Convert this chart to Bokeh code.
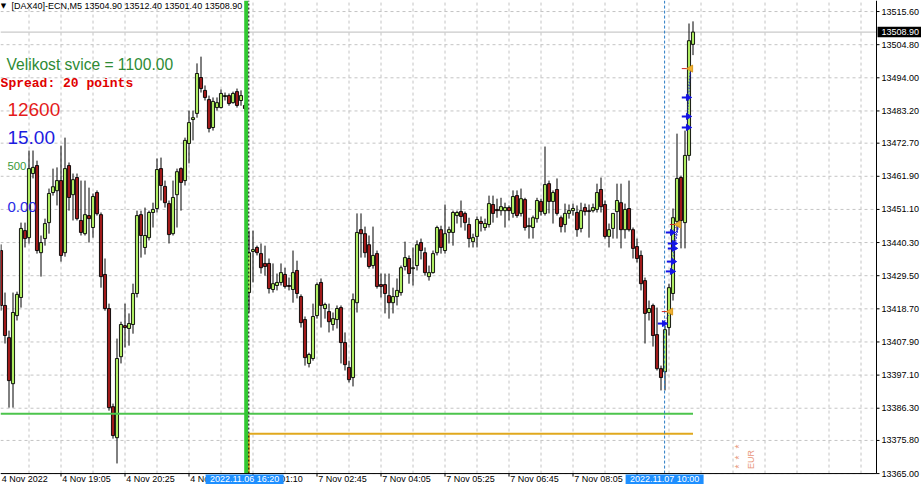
from bokeh.plotting import figure
from bokeh.models import Range1d, Label, ColumnDataSource
from bokeh.core.properties import value
from bokeh.embed import file_html
from bokeh.resources import INLINE
import math

# ---------------- data (DAX40 M5 candles) ----------------
opens = [13437.7, 13419.8, 13409.3, 13394.3, 13416.5, 13422.4, 13444.2, 13441.9, 13462.8, 13465.4,
         13437.0, 13441.6, 13446.8, 13456.6, 13457.2, 13460.5, 13437.0, 13465.4, 13455.9, 13461.5,
         13447.5, 13443.2, 13449.1, 13445.2, 13456.6, 13449.4, 13429.9, 13418.8, 13386.8, 13376.7,
         13403.1, 13413.2, 13412.3, 13413.6, 13423.7, 13449.4, 13438.7, 13441.9, 13450.1, 13451.4,
         13464.4, 13458.6, 13453.0, 13443.2, 13455.9, 13464.4, 13460.5, 13472.6, 13480.4, 13482.4,
         13494.1, 13489.9, 13486.9, 13477.8, 13484.3, 13484.3, 13487.9, 13488.2, 13485.9, 13489.5,
         13486.6, 13485.0, 13424.0, 13437.4, 13438.7, 13436.7, 13433.5, 13433.5, 13425.0, 13426.3,
         13427.3, 13429.9, 13426.3, 13425.0, 13431.2, 13422.7, 13415.2, 13400.9, 13402.5, 13416.5,
         13427.3, 13418.8, 13417.8, 13413.6, 13415.2, 13419.1, 13407.7, 13399.6, 13396.3, 13420.7,
         13444.5, 13443.2, 13439.6, 13432.8, 13436.7, 13426.6, 13426.6, 13423.0, 13420.7, 13422.7,
         13424.0, 13432.5, 13435.1, 13431.8, 13432.8, 13440.3, 13437.0, 13429.2, 13430.5, 13437.0,
         13444.5, 13437.7, 13443.6, 13443.6, 13449.1, 13450.4, 13449.8, 13446.2, 13440.6, 13442.3,
         13447.2, 13445.2, 13446.2, 13452.7, 13451.1, 13450.7, 13450.7, 13451.7, 13449.8, 13455.6,
         13449.8, 13454.3, 13445.5, 13445.2, 13448.1, 13453.7, 13449.8, 13459.5, 13453.7, 13457.6,
         13448.4, 13446.2, 13449.8, 13450.7, 13450.1, 13444.9, 13451.7, 13450.7, 13450.7, 13451.1,
         13457.6, 13452.7, 13442.3, 13444.9, 13450.4, 13453.3, 13444.5, 13451.4, 13444.5, 13439.0,
         13436.1, 13427.9, 13417.5, 13419.8, 13410.3, 13399.2, 13398.2, 13412.6, 13423.7, 13447.2,
         13461.5, 13446.8, 13468.7, 13504.9]
highs = [13439.7, 13424.0, 13411.6, 13424.0, 13424.3, 13446.8, 13446.8, 13470.3, 13470.3, 13467.0,
         13442.6, 13448.1, 13457.9, 13464.4, 13464.8, 13471.9, 13474.5, 13466.4, 13462.8, 13462.8,
         13460.5, 13460.5, 13458.2, 13456.3, 13457.3, 13450.1, 13435.1, 13420.4, 13387.8, 13409.0,
         13414.5, 13420.4, 13417.2, 13426.9, 13450.7, 13450.7, 13451.7, 13450.7, 13453.3, 13467.7,
         13468.0, 13460.5, 13454.0, 13460.5, 13464.4, 13464.8, 13474.5, 13483.3, 13483.3, 13498.7,
         13500.9, 13491.5, 13488.2, 13487.6, 13487.6, 13490.2, 13489.2, 13488.9, 13489.5, 13490.5,
         13489.9, 13486.0, 13444.2, 13444.2, 13439.3, 13440.0, 13439.3, 13435.1, 13433.5, 13430.2,
         13433.5, 13432.1, 13428.9, 13437.7, 13434.4, 13423.4, 13416.2, 13404.4, 13420.4, 13427.3,
         13428.6, 13420.7, 13420.4, 13417.5, 13419.8, 13419.8, 13411.0, 13401.8, 13423.7, 13449.8,
         13449.8, 13445.5, 13442.6, 13445.5, 13437.7, 13430.2, 13430.2, 13430.2, 13425.6, 13428.6,
         13432.8, 13440.6, 13436.1, 13438.7, 13441.0, 13441.6, 13438.7, 13432.8, 13437.7, 13445.8,
         13445.8, 13452.7, 13445.5, 13450.7, 13450.7, 13454.0, 13450.4, 13448.4, 13443.2, 13448.8,
         13448.8, 13448.1, 13455.6, 13455.6, 13454.6, 13454.9, 13453.3, 13452.4, 13457.3, 13457.3,
         13457.9, 13454.9, 13448.4, 13449.1, 13454.9, 13454.6, 13471.6, 13460.5, 13457.3, 13461.2,
         13449.1, 13453.0, 13452.7, 13453.0, 13452.4, 13453.3, 13453.0, 13452.7, 13453.0, 13459.5,
         13461.5, 13454.0, 13446.5, 13449.8, 13459.5, 13459.5, 13453.0, 13460.5, 13445.2, 13441.6,
         13437.7, 13428.9, 13421.4, 13420.4, 13419.1, 13400.2, 13413.2, 13426.9, 13451.4, 13475.8,
         13462.1, 13476.8, 13511.7, 13512.4]
lows = [13418.1, 13407.4, 13386.5, 13386.5, 13414.9, 13419.1, 13438.7, 13440.0, 13461.2, 13436.7,
        13429.2, 13439.3, 13443.2, 13455.6, 13452.4, 13434.1, 13435.7, 13450.7, 13447.5, 13447.5,
        13442.6, 13442.6, 13440.3, 13441.9, 13449.1, 13425.6, 13418.1, 13385.5, 13376.4, 13368.3,
        13400.9, 13406.1, 13406.7, 13410.6, 13422.4, 13435.4, 13436.4, 13441.0, 13445.2, 13450.1,
        13454.0, 13451.7, 13440.0, 13442.6, 13445.2, 13450.7, 13458.9, 13466.1, 13473.6, 13481.0,
        13489.2, 13486.6, 13476.2, 13476.8, 13483.3, 13484.0, 13486.6, 13484.9, 13485.6, 13484.3,
        13484.9, 13483.0, 13417.5, 13427.3, 13436.1, 13430.2, 13429.5, 13423.7, 13424.0, 13424.7,
        13426.3, 13425.3, 13424.7, 13420.7, 13422.1, 13412.6, 13400.2, 13399.6, 13401.8, 13415.5,
        13412.6, 13415.5, 13411.0, 13411.6, 13412.3, 13400.9, 13398.6, 13394.7, 13393.4, 13417.5,
        13435.4, 13435.4, 13431.8, 13431.8, 13425.3, 13422.4, 13417.2, 13415.5, 13417.2, 13419.8,
        13423.0, 13431.2, 13426.9, 13426.3, 13431.2, 13434.8, 13429.5, 13427.9, 13430.2, 13436.1,
        13436.7, 13436.7, 13440.0, 13439.3, 13446.5, 13445.2, 13444.2, 13438.7, 13438.7, 13438.7,
        13443.9, 13444.2, 13445.2, 13446.8, 13448.4, 13449.1, 13445.2, 13447.5, 13448.4, 13448.4,
        13448.8, 13444.2, 13441.6, 13441.6, 13446.8, 13449.1, 13449.1, 13449.8, 13446.5, 13449.1,
        13443.6, 13443.6, 13448.1, 13449.1, 13442.2, 13443.6, 13449.1, 13441.9, 13450.1, 13450.1,
        13450.1, 13441.6, 13438.7, 13441.6, 13441.6, 13438.4, 13441.6, 13443.9, 13435.1, 13433.8,
        13424.7, 13407.4, 13414.9, 13406.4, 13398.6, 13392.1, 13392.1, 13410.0, 13421.4, 13444.2,
        13438.4, 13438.4, 13467.0, 13501.4]
closes = [13419.8, 13410.0, 13395.3, 13417.5, 13423.4, 13444.9, 13441.6, 13464.4, 13464.8, 13437.7,
          13440.3, 13446.5, 13456.3, 13458.5, 13460.5, 13436.1, 13464.4, 13455.0, 13460.8, 13448.1,
          13443.6, 13449.4, 13448.1, 13455.3, 13449.7, 13429.2, 13418.8, 13386.5, 13377.4, 13402.5,
          13413.6, 13412.6, 13413.9, 13423.7, 13449.1, 13442.6, 13442.6, 13450.1, 13451.1, 13464.1,
          13458.9, 13453.3, 13442.9, 13455.0, 13463.4, 13459.9, 13473.6, 13479.4, 13481.0, 13495.4,
          13490.5, 13487.6, 13477.5, 13486.3, 13485.9, 13488.9, 13488.2, 13485.6, 13488.9, 13485.0,
          13488.2, 13484.0, 13437.0, 13438.0, 13437.0, 13432.1, 13432.5, 13425.3, 13426.9, 13427.3,
          13430.5, 13426.0, 13426.0, 13430.5, 13423.7, 13414.2, 13402.8, 13403.8, 13416.2, 13426.6,
          13419.8, 13420.1, 13414.5, 13415.5, 13418.8, 13407.7, 13400.5, 13395.6, 13421.7, 13443.6,
          13443.2, 13437.0, 13432.5, 13436.1, 13426.0, 13426.0, 13423.7, 13420.7, 13422.7, 13424.7,
          13432.1, 13435.4, 13430.2, 13432.1, 13439.6, 13437.7, 13430.5, 13430.5, 13436.7, 13445.2,
          13438.7, 13443.2, 13444.5, 13450.1, 13450.1, 13448.8, 13446.8, 13441.6, 13441.9, 13447.8,
          13446.5, 13446.5, 13453.0, 13449.8, 13450.7, 13452.0, 13451.7, 13450.7, 13455.3, 13449.1,
          13454.6, 13445.2, 13445.8, 13448.4, 13454.0, 13450.4, 13459.2, 13453.7, 13456.6, 13449.8,
          13445.5, 13449.8, 13450.7, 13451.4, 13444.5, 13450.7, 13450.4, 13450.4, 13451.7, 13456.6,
          13452.0, 13442.3, 13444.5, 13449.8, 13454.0, 13444.5, 13451.1, 13444.5, 13438.4, 13435.1,
          13426.9, 13417.2, 13418.8, 13410.0, 13399.2, 13396.3, 13411.9, 13425.6, 13448.4, 13461.2,
          13447.5, 13468.7, 13506.1, 13508.9]

# price scale labels (right) and time labels (bottom, at bar indices)
y_ticks = [13515.6, 13504.8, 13494.0, 13483.2, 13472.7, 13461.9, 13451.1, 13440.3,
           13429.5, 13418.7, 13407.9, 13397.1, 13386.3, 13375.8, 13365.0]
x_tick_bars = [-1, 15, 31, 47, 63, 79, 95, 111, 127, 143, 159]
x_tick_labels = ["4 Nov 2022", "4 Nov 19:05", "4 Nov 20:25", "4 Nov 21:45", "7 Nov 01:10",
                 "7 Nov 02:45", "7 Nov 04:05", "7 Nov 05:25", "7 Nov 06:45", "7 Nov 08:05", "7 Nov 09:25"]

bid_price = 13508.9
green_level = 13384.5
orange_level = 13378.0
green_vline_bar = 61.3
green_vline_label = "2022.11.06 16:20"
separator_bar = 61.95
blue_vline_bar = 165.9
blue_vline_label = "2022.11.07 10:00"
last_bar = 173

close_bars = [167.4, 169.4, 172.4]
close_prices = [13417.8, 13446.2, 13497.0]
open_bars = [165.5, 167.5, 168.0, 168.0, 167.75, 167.5, 171.5, 171.5, 171.5]
open_prices = [13413.9, 13443.6, 13440.0, 13438.4, 13434.1, 13430.9, 13487.6, 13481.4, 13477.8]
open_to_close = [0, 1, 1, 1, 1, 1, 2, 2, 2]

# ---------------- chart window (MT4 style: price scale right, time scale below) ----------------
X0, X1 = -0.125, 230.125          # whole window in bar units
Y0, Y1 = 13361.44, 13519.2        # whole window in price units
PLOT_R = 218.875                  # right edge of the candle area (price-scale line)
PLOT_B = 13365.0                  # bottom edge of the candle area (time-scale line)
PX_BAR = 0.25                     # one screen pixel in bar units
PX_PRICE = 0.32595                # one screen pixel in price units

p = figure(width=921, height=484, x_range=Range1d(X0, X1), y_range=Range1d(Y0, Y1),
           x_axis_location=None, y_axis_location=None, toolbar_location=None, output_backend="svg",
           min_border_left=0, min_border_top=0, min_border_bottom=0, min_border_right=0)
p.outline_line_color = None
p.background_fill_color = "white"
p.border_fill_color = "white"
p.xgrid.visible = False
p.ygrid.visible = False

FONT = "Liberation Sans"
GRID = "#c4c4c4"

# dashed grid inside the candle area
gx = list(range(7, int(PLOT_R) + 1, 8))
p.segment(x0=gx, y0=[PLOT_B] * len(gx), x1=gx, y1=[Y1] * len(gx),
          line_color=GRID, line_width=1, line_dash="3 3")
p.segment(x0=[X0] * len(y_ticks), y0=y_ticks, x1=[PLOT_R] * len(y_ticks), y1=y_ticks,
          line_color=GRID, line_width=1, line_dash="3 3")

# bid line
p.segment(x0=[X0], y0=[bid_price], x1=[PLOT_R], y1=[bid_price], line_color="#bdbdbd", line_width=1)

# candles
bars = list(range(len(opens)))
bull = [c >= o for o, c in zip(opens, closes)]
src = ColumnDataSource(dict(
    x=bars, o=opens, h=highs, l=lows, c=closes,
    top=[max(o, c) for o, c in zip(opens, closes)],
    bot=[min(o, c) for o, c in zip(opens, closes)],
    col=["#aeec62" if b else "#a01a1a" for b in bull]))
p.segment(x0="x", y0="h", x1="x", y1="l", source=src, line_color="black", line_width=1)
p.vbar(x="x", width=0.78, top="top", bottom="bot", source=src, fill_color="col",
       line_color="black", line_width=0.9)

# horizontal / vertical objects
p.segment(x0=[X0], y0=[green_level], x1=[last_bar], y1=[green_level], line_color="#4cc44c", line_width=2)
p.segment(x0=[separator_bar], y0=[orange_level], x1=[last_bar], y1=[orange_level],
          line_color="#e0a81e", line_width=2)
p.segment(x0=[separator_bar], y0=[orange_level], x1=[separator_bar], y1=[PLOT_B],
          line_color="#e0a81e", line_width=2)
p.segment(x0=[green_vline_bar], y0=[PLOT_B], x1=[green_vline_bar], y1=[Y1], line_color="#32c832", line_width=4)
p.segment(x0=[separator_bar], y0=[PLOT_B], x1=[separator_bar], y1=[Y1], line_color="black",
          line_width=1, line_dash="2 2")
p.segment(x0=[blue_vline_bar], y0=[PLOT_B], x1=[blue_vline_bar], y1=[Y1], line_color="#2b7cc4",
          line_width=1, line_dash="3 2")

# trades
for i, j in enumerate(open_to_close):
    p.line([open_bars[i], close_bars[j]], [open_prices[i], close_prices[j]],
           line_color="#1010d0", line_width=1, line_dash="1 2")
p.segment(x0=[b - 2.2 for b in close_bars], y0=close_prices, x1=[b - 0.8 for b in close_bars], y1=close_prices,
          line_color="#d02020", line_width=1)
p.scatter(close_bars, close_prices, marker="triangle", angle=math.pi / 2, size=7,
          fill_color="#f0b030", line_color="#d89a20")
p.segment(x0=[b - 1.3 for b in open_bars], y0=open_prices, x1=[b for b in open_bars], y1=open_prices,
          line_color="#1414e6", line_width=2)
p.scatter([b + 0.3 for b in open_bars], open_prices, marker="triangle", angle=-math.pi / 2, size=6,
          fill_color="#1414e6", line_color="#1414e6")

# calendar event
p.text(x=[184.6, 184.6, 184.6], y=[13373.8, 13370.2, 13367.3], text=["*", "*", "*"], angle=math.pi / 2,
       text_align="center", text_baseline="middle", text_color="#e8967a",
       text_font=value(FONT), text_font_size="10px")
p.text(x=[187.4], y=[13369.6], text=["EUR"], angle=math.pi / 2, text_align="center", text_baseline="middle",
       text_color="#e8967a", text_font=value(FONT), text_font_size="9px")

# ---------------- price scale (right) ----------------
p.segment(x0=[PLOT_R], y0=[PLOT_B], x1=[PLOT_R], y1=[Y1], line_color="black", line_width=1)
p.segment(x0=[PLOT_R] * len(y_ticks), y0=y_ticks, x1=[PLOT_R + 3 * PX_BAR] * len(y_ticks), y1=y_ticks,
          line_color="black", line_width=1)
p.text(x=[PLOT_R + 5 * PX_BAR] * len(y_ticks), y=y_ticks, text=[f"{v:.2f}" for v in y_ticks],
       text_align="left", text_baseline="middle", text_color="black",
       text_font=value(FONT), text_font_size="9px")
p.rect(x=[(PLOT_R + PX_BAR + X1) / 2], y=[bid_price], width=X1 - PLOT_R - PX_BAR, height=10.5 * PX_PRICE,
       fill_color="black", line_color=None)
p.text(x=[PLOT_R + 5 * PX_BAR], y=[bid_price], text=[f"{bid_price:.2f}"], text_align="left",
       text_baseline="middle", text_color="white", text_font=value(FONT), text_font_size="9px")

# ---------------- time scale (bottom) ----------------
p.segment(x0=[X0], y0=[PLOT_B], x1=[PLOT_R], y1=[PLOT_B], line_color="black", line_width=1)
p.segment(x0=x_tick_bars, y0=[PLOT_B] * len(x_tick_bars), x1=x_tick_bars,
          y1=[PLOT_B - 3 * PX_PRICE] * len(x_tick_bars), line_color="black", line_width=1)
label_top = PLOT_B - 0.5 * PX_PRICE
p.text(x=[max(b + 1.2 * PX_BAR, X0 + 1.2 * PX_BAR) for b in x_tick_bars], y=[label_top] * len(x_tick_bars),
       text=x_tick_labels, text_align="left", text_baseline="top", text_color="black",
       text_font=value(FONT), text_font_size="9px")
for xb, t in ((green_vline_bar - 0.4, green_vline_label), (blue_vline_bar, blue_vline_label)):
    p.rect(x=[xb], y=[(PLOT_B - 1 * PX_PRICE + Y0) / 2], width=19.5, height=PLOT_B - 1 * PX_PRICE - Y0,
           fill_color="#1e8fff", line_color=None)
    p.text(x=[xb], y=[label_top], text=[t], text_align="center", text_baseline="top",
           text_color="white", text_font=value(FONT), text_font_size="9px")

# ---------------- indicator texts (top left) ----------------
def lab(x, y, t, color, size, font=FONT, style="normal", align="left"):
    p.add_layout(Label(x=x, y=y, text=t, text_color=color, text_font=font, text_font_size=size,
                       text_font_style=style, text_baseline="middle", text_align=align))

lab(0.625, 13517.4, "\u25bc", "black", "7px", font="DejaVu Sans", align="center")
lab(2.625, 13517.4, "[DAX40]-ECN,M5  13504.90 13512.40 13501.40 13508.90", "black", "9px")
lab(1.375, 13498.2, "Velikost svice = 1100.00", "#2e8b35", "15.6px")
lab(-0.1, 13492.0, "Spread: 20 points", "#e00000", "13px", font="Liberation Mono", style="bold")
lab(1.6, 13483.8, "12600", "#e41b1b", "19px")
lab(1.6, 13474.5, "15.00", "#1c1ce0", "19px")
lab(1.6, 13465.4, "500", "#3a9a3a", "11.4px")
lab(1.6, 13451.9, "0.00", "#2a2ae6", "15px")

open("out.html", "w").write(file_html(p, INLINE))
